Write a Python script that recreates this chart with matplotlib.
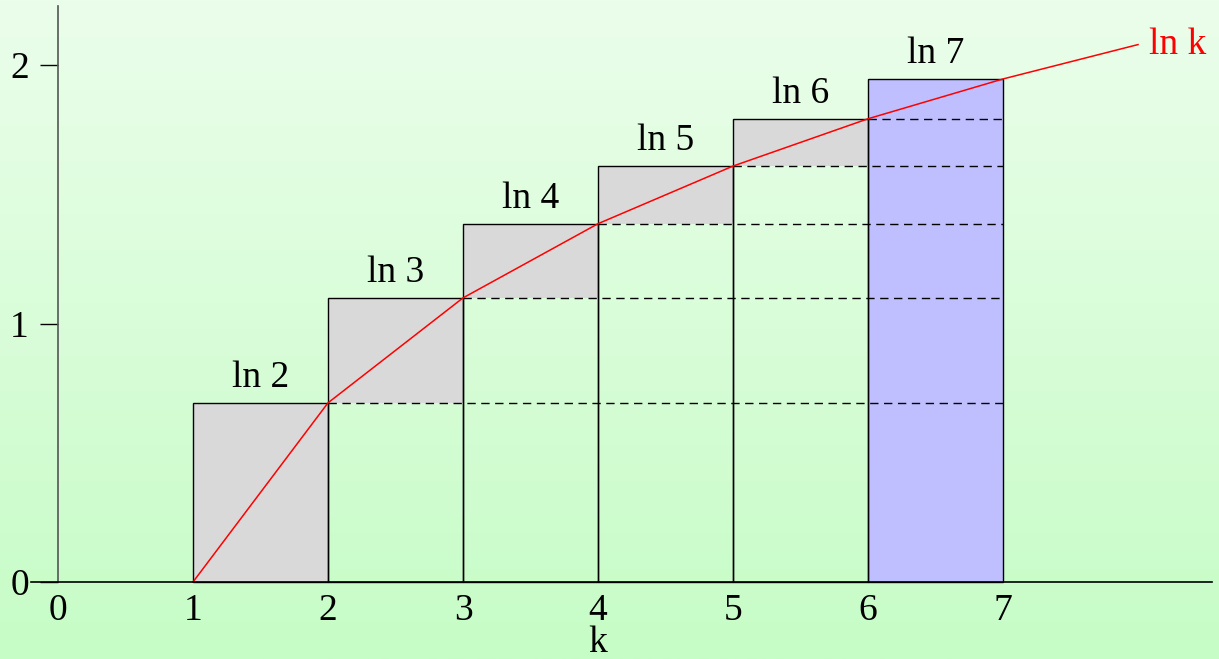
import numpy as np
import matplotlib.pyplot as plt

# ln k at the integers k = 1..8
k_vals = [1, 2, 3, 4, 5, 6, 7, 8]
ln_vals = [0.0, 0.693, 1.099, 1.386, 1.609, 1.792, 1.946, 2.079]

# rectangles of width 1 starting at k = 1..6, height ln(k+1)
bar_left = [1, 2, 3, 4, 5, 6]
bar_height = [0.693, 1.099, 1.386, 1.609, 1.792, 1.946]
bar_labels = ['ln 2', 'ln 3', 'ln 4', 'ln 5', 'ln 6', 'ln 7']

xticks = [0, 1, 2, 3, 4, 5, 6, 7]
yticks = [0, 1, 2]

plt.rcParams['font.family'] = ['Liberation Serif', 'DejaVu Serif']

W, H = 1219, 659
fig = plt.figure(figsize=(W / 100, H / 100), dpi=100)
ax = fig.add_axes([0, 0, 1, 1])

# pixel layout of the reference: x=0 at 58px, 135px per unit; y=0 at 582px, 258.5px per unit
ax.set_xlim(-58 / 135, (W - 58) / 135)
ax.set_ylim((582 - H) / 258.5, 582 / 258.5)

# background gradient
grad = np.linspace(0, 1, 256).reshape(-1, 1)
top = np.array([235, 254, 235]) / 255
bot = np.array([198, 252, 198]) / 255
img = top + (bot - top) * grad[:, :, None]
ax.imshow(img, extent=[0, 1, 0, 1], transform=ax.transAxes, aspect='auto', zorder=0)

# grey step: only the part of each bar above ln k
steps = np.array(bar_height[:5]) - np.array(ln_vals[:5])
ax.bar(bar_left[:5], steps, bottom=ln_vals[:5], width=1, align='edge',
       color='#d9d9d9', linewidth=0, zorder=1)
# last bar in blue
ax.bar(bar_left[5], bar_height[5], width=1, align='edge', color='#bfbfff',
       linewidth=0, zorder=1)
# outlines of the full bars
ax.bar(bar_left, bar_height, width=1, align='edge', fill=False,
       edgecolor='black', linewidth=1, zorder=2)

for x, h, lab in zip(bar_left, bar_height, bar_labels):
    ax.text(x + 0.5, h + 0.03, lab, ha='center', va='bottom', fontsize=27, zorder=5)

# dashed levels from k to 7
for k, v in zip(k_vals[1:6], ln_vals[1:6]):
    ax.plot([k, 7], [v, v], color='black', lw=1, ls=(0, (6, 4)), zorder=3)

ax.plot(k_vals, ln_vals, color='red', lw=1.1, zorder=4)
ax.text(k_vals[-1] + 0.08, ln_vals[-1], 'ln k', color='red', fontsize=27,
        ha='left', va='center', zorder=5)

for s in ['top', 'right']:
    ax.spines[s].set_visible(False)
ax.spines['left'].set_position(('data', 0))
ax.spines['bottom'].set_position(('data', 0))
ax.spines['left'].set_bounds(0, 2.23)
ax.spines['bottom'].set_bounds(-0.2, 8.55)
ax.spines['left'].set_color('#555555')
ax.spines['left'].set_linewidth(1.2)
ax.spines['bottom'].set_linewidth(1.2)
ax.spines['left'].set_zorder(6)
ax.spines['bottom'].set_zorder(6)

ax.set_xticks(xticks)
ax.set_yticks(yticks)
ax.tick_params(axis='x', length=0, pad=8, labelsize=27)
ax.tick_params(axis='y', direction='out', length=13, width=1, pad=8, labelsize=27)
ax.text(4, -0.17, 'k', ha='center', va='top', fontsize=27)

fig.savefig('out.png', dpi=100)
